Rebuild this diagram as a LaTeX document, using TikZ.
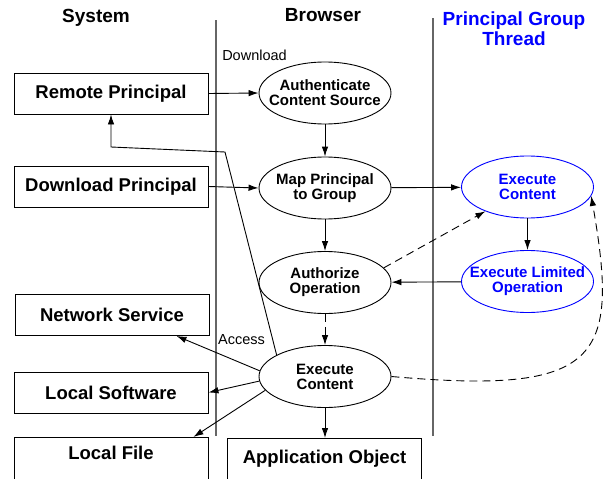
\documentclass[tikz,border=0pt]{standalone}
\usepackage{fontspec}
\setmainfont{Liberation Sans}
\usepackage{tikz}
\usetikzlibrary{arrows.meta,shapes.geometric,calc}

\begin{document}
\begin{tikzpicture}[x=1pt,y=-1pt,
  box/.style={draw,line width=0.9pt,minimum width=194pt,minimum height=41pt,inner sep=0pt,font=\fontsize{18.5}{20}\selectfont\bfseries},
  oval/.style={draw,ellipse,line width=0.9pt,minimum width=132pt,minimum height=62pt,inner sep=-12pt,align=center,font=\fontsize{15}{15}\selectfont\bfseries},
  grp/.style={oval,draw=blue,text=blue},
  head/.style={font=\fontsize{19}{20}\selectfont\bfseries,align=center},
  lbl/.style={font=\fontsize{14.5}{15}\selectfont},
  flow/.style={-{Latex[length=10pt,width=6.5pt]},line width=0.9pt},
  dflow/.style={flow,dash pattern=on 8pt off 5pt},
  lane/.style={line width=1.3pt,black!60}]
\useasboundingbox (0,0) rectangle (605,479);
\clip (0,0) rectangle (605,479);

\node[head] (hsys) at (96,17.5) {System};
\node[head] (hbro) at (323,15.5) {Browser};
\node[head,text=blue] (hgrp) at (514,29) {Principal Group\\Thread};

\draw[lane] (216,20) -- (216,436);
\draw[lane] (433,18) -- (433,436);

\node[box] (rp) at (111,93.5) {Remote Principal};
\node[box] (dp) at (111,186.5) {Download Principal};
\node[box] (ns) at (112,315) {Network Service};
\node[box] (ls) at (111,392.5) {Local Software};
\node[box,anchor=north,inner ysep=9pt,text depth=40pt] (lf) at (111,437) {Local File};
\node[box,anchor=north,inner ysep=12pt,text depth=40pt] (app) at (324.5,438) {Application Object};

\node[oval] (auth) at (325,93) {Authenticate\\Content Source};
\node[oval] (map) at (325,188) {Map Principal\\to Group};
\node[oval] (authz) at (325,282.5) {Authorize\\Operation};
\node[oval] (exec) at (325,376.5) {Execute\\Content};
\node[grp] (gexec) at (527.5,187) {Execute\\Content};
\node[grp] (glim) at (527.5,281.5) {Execute Limited\\Operation};

\node[lbl] (dl) at (254.5,55) {Download};
\node[lbl] (acc) at (241.5,340) {Access};

\draw[flow] (rp.east) -- (auth.west);
\draw[flow] (dp.east) -- (map.west);
\draw[flow] (auth) -- (map);
\draw[flow] (map) -- (authz);
\draw[dflow] (authz) -- (exec);
\draw[flow] (exec.south) -- (exec.south |- app.north);
\draw[flow] (map) -- (gexec);
\draw[flow] (gexec) -- (glim);
\draw[flow] (glim) -- (authz);
\draw[dflow] (authz.14) -- (gexec.210);
\draw[dflow] (exec.east) .. controls (600,395) and (620,360) .. (gexec.-8);
\draw[flow] (exec.175) -- (ns.-18);
\draw[flow] (exec.184) -- (ls.east);
\draw[flow] (exec.193) -- ([xshift=-15pt]lf.north east);
\draw[flow] (exec.156) -- (225,152) -- (111,147) -- (rp.south);
\end{tikzpicture}
\end{document}
